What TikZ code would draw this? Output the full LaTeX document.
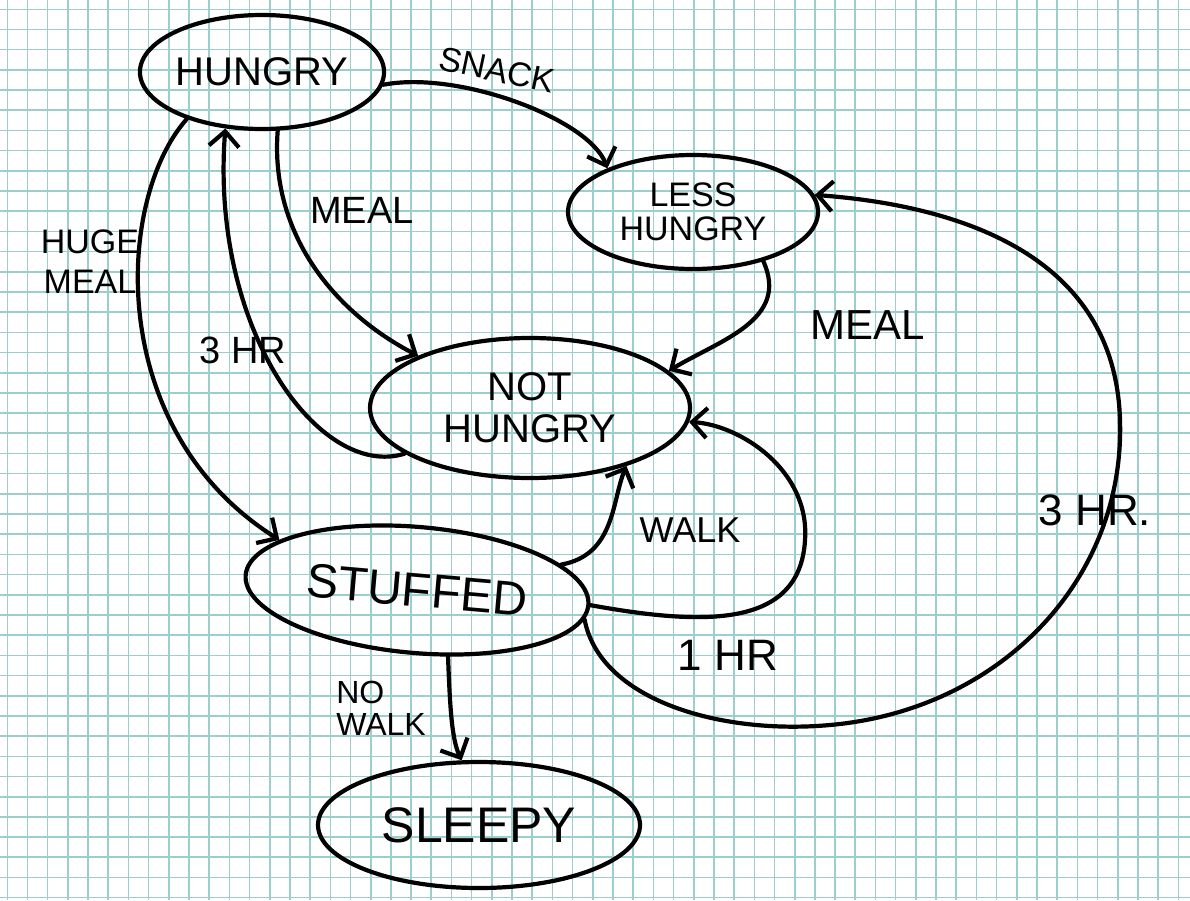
\documentclass[tikz,border=0pt]{standalone}
\usepackage{fontspec}
\setmainfont{Liberation Sans}
\usetikzlibrary{shapes.geometric,arrows.meta}
\definecolor{gridteal}{RGB}{156,206,206}

\tikzset{every picture/.style={line width=4.2pt,line cap=round,line join=round}}
\tikzset{
  gridline/.style={color=gridteal,line width=1.6pt,line cap=butt},
  state/.style={ellipse,draw,line width=4.2pt,inner sep=0pt,align=center},
  trans/.style={line width=4.2pt,-{Straight Barb[length=15pt,width=30pt]}},
  lbl/.style={inner sep=0pt,align=center}
}

\begin{document}
\begin{tikzpicture}[x=1pt,y=1pt,yscale=-1]
\useasboundingbox (0,0) rectangle (1190,900);
\fill[white] (0,0) rectangle (1190,900);

%Grid paper
\foreach \i in {0,...,58} {\draw[gridline] ({7.3+20.19*\i},0) -- ({7.3+20.19*\i},900);}
\foreach \j in {0,...,44} {\draw[gridline] (0,{9.3+20.19*\j}) -- (1190,{9.3+20.19*\j});}

%States
\node[state,minimum width=214pt,minimum height=114pt,font=\fontsize{40}{42}\selectfont] (hungry) at (262,72) {HUNGRY};
\node[state,minimum width=250pt,minimum height=114pt,font=\fontsize{34}{34}\selectfont] (less) at (693,212) {LESS\\HUNGRY};
\node[state,minimum width=320pt,minimum height=140pt,font=\fontsize{40}{42}\selectfont] (nothungry) at (530,408) {NOT\\HUNGRY};
\node[state,minimum width=344pt,minimum height=126pt,rotate=-5,font=\fontsize{48}{50}\selectfont] (stuffed) at (417,590) {STUFFED};
\node[state,minimum width=322pt,minimum height=126pt,font=\fontsize{50}{52}\selectfont] (sleepy) at (479,825) {SLEEPY};

%Curve Lines
\draw[trans] (hungry.-6) .. controls (460,70) and (590,120) .. (less.153);
\draw[trans] (hungry.-75) .. controls (270,230) and (330,310) .. (nothungry.155);
\draw[trans] (nothungry.200) .. controls (320,480) and (210,330) .. (hungry.237);
\draw[trans] (hungry.212) .. controls (115,200) and (105,430) .. (stuffed.165);
\draw[trans] (less.-35) .. controls (790,320) and (720,340) .. (nothungry.15);
\draw[trans] (stuffed.15) .. controls (615,555) and (612,500) .. (nothungry.-31);
\draw[trans] (stuffed.0) .. controls (700,625) and (800,630) .. (805,540) .. controls (810,470) and (740,425) .. (nothungry.-5);
\draw[trans] (stuffed.-5) .. controls (600,700) and (720,735) .. (830,725) .. controls (1000,710) and (1125,580) .. (1120,420) .. controls (1115,250) and (950,205) .. (less.8);
\draw[trans] (stuffed.-60) .. controls (450,710) and (452,740) .. (sleepy.105);

% Text Node
\node[lbl,rotate=-12,font=\fontsize{34}{36}\selectfont] (snack) at (497,70) {SNACK};
\node[lbl,font=\fontsize{38}{40}\selectfont] (mealA) at (362,210) {MEAL};
\node[lbl,font=\fontsize{34}{40}\selectfont] (hugemeal) at (90,262) {HUGE\\MEAL};
\node[lbl,font=\fontsize{38}{40}\selectfont] (threehrA) at (243,350) {3 HR};
\node[lbl,font=\fontsize{42}{44}\selectfont] (mealB) at (868,325) {MEAL};
\node[lbl,font=\fontsize{36}{38}\selectfont] (walk) at (690,530) {WALK};
\node[lbl,font=\fontsize{44}{46}\selectfont] (onehr) at (728,655) {1 HR};
\node[lbl,font=\fontsize{44}{46}\selectfont] (threehrB) at (1095,510) {3 HR.};
\node[lbl,align=left,font=\fontsize{32}{32}\selectfont] (nowalk) at (381,708) {NO\\WALK};
\end{tikzpicture}
\end{document}
